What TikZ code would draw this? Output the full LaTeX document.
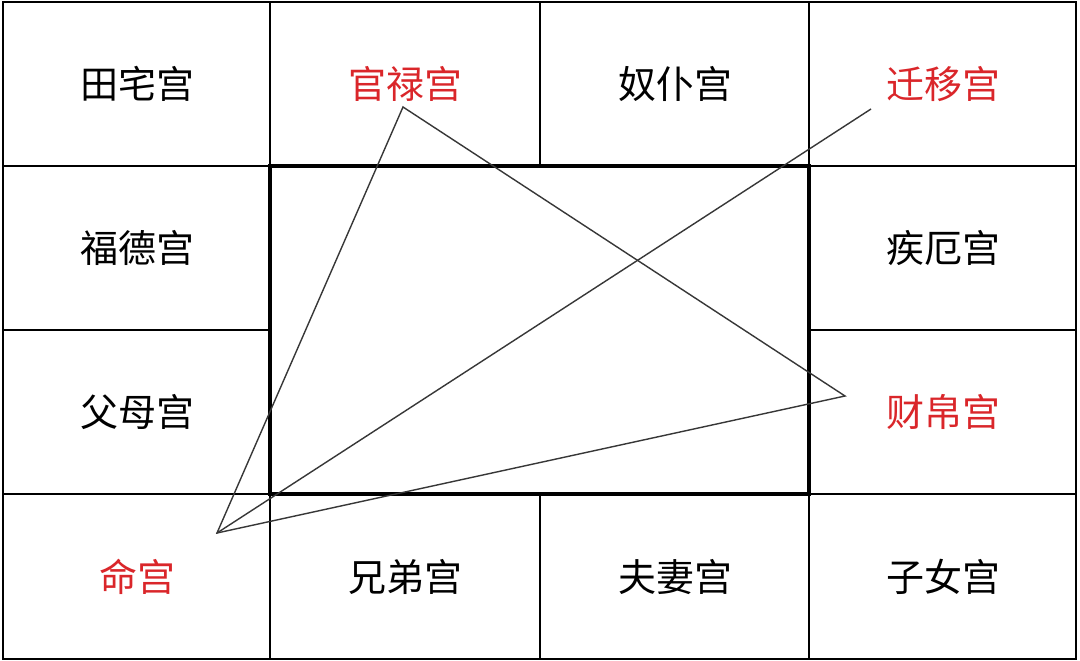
\documentclass[tikz,border=0pt]{standalone}
\usepackage{fontspec}
\newfontfamily\cjk{Noto Sans CJK SC}
\definecolor{palred}{RGB}{218,38,42}
\definecolor{linegray}{RGB}{55,55,55}
\tikzset{
  palace/.style={font=\cjk\fontsize{38}{40}\selectfont, text=black, inner sep=0pt},
  hot/.style={palace, text=palred},
  gridline/.style={line width=1.4pt, black},
  frame/.style={line width=2.4pt, black},
  centre/.style={line width=3.4pt, black},
  link/.style={line width=1.4pt, linegray, line join=miter},
}
\begin{document}
\begin{tikzpicture}[x=1pt,y=-1pt]
\useasboundingbox (0,0) rectangle (1080,661);
\fill[white] (0,0) rectangle (1080,661);
% grid
\draw[gridline] (270,2) -- (270,659);
\draw[gridline] (540,2) -- (540,166);
\draw[gridline] (540,494) -- (540,659);
\draw[gridline] (809,2) -- (809,659);
\draw[gridline] (3,166) -- (1076,166);
\draw[gridline] (3,330) -- (270,330);
\draw[gridline] (809,330) -- (1076,330);
\draw[gridline] (3,494) -- (1076,494);
\draw[frame] (3,2) rectangle (1076,659);
\draw[centre] (270,166) rectangle (809,494);
% labels
\node[palace] (tianzhai) at (137,84) {田宅宫};
\node[hot]    (guanlu)   at (405,84) {官禄宫};
\node[palace] (nupu)     at (675,84) {奴仆宫};
\node[hot]    (qianyi)   at (943,84) {迁移宫};
\node[palace] (fude)     at (137,248) {福德宫};
\node[palace] (jie)      at (943,248) {疾厄宫};
\node[palace] (fumu)     at (137,412) {父母宫};
\node[hot]    (caibo)    at (943,412) {财帛宫};
\node[hot]    (ming)     at (137,577) {命宫};
\node[palace] (xiongdi)  at (405,577) {兄弟宫};
\node[palace] (fuqi)     at (675,577) {夫妻宫};
\node[palace] (zinv)     at (943,577) {子女宫};
% anchor points of the triangle
\coordinate (pming)  at (217,533);
\coordinate (pguan)  at (403,107);
\coordinate (pqian)  at (871,109);
\coordinate (pcai)   at (845,396);
\draw[link] (pming) -- (pguan) -- (pcai) -- cycle;
\draw[link] (pming) -- (pqian);
\end{tikzpicture}
\end{document}
